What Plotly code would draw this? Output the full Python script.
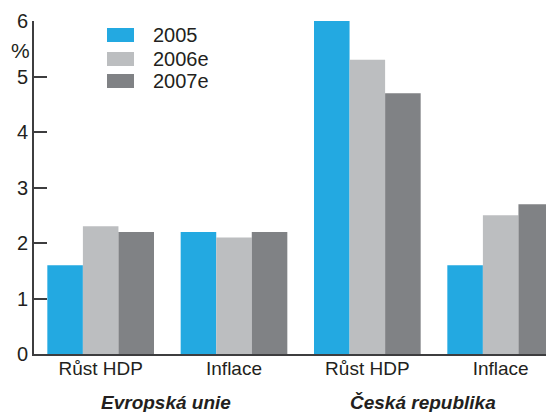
import plotly.graph_objects as go

categories = ["Růst HDP", "Inflace", "Růst HDP", "Inflace"]
groups = ["Evropská unie", "Česká republika"]
series_names = ["2005", "2006e", "2007e"]
v2005 = [1.6, 2.2, 6.0, 1.6]
v2006e = [2.3, 2.1, 5.3, 2.5]
v2007e = [2.2, 2.2, 4.7, 2.7]
y_ticks = [0, 1, 2, 3, 4, 5, 6]

colors = ["#23a9e1", "#bcbec0", "#808285"]
values = [v2005, v2006e, v2007e]
xpos = list(range(len(categories)))
txt = "#231f20"
axis_col = "#3d3d3f"
FONT = "Liberation Sans, Arial, sans-serif"

fig = go.Figure()
for name, vals, col in zip(series_names, values, colors):
    fig.add_trace(go.Bar(x=xpos, y=vals, name=name, marker=dict(color=col, line=dict(width=0)),
                         showlegend=False))

# page body has an 8px default margin; figure placed at (8, 8)
OFF = 8
W, H = 554 - OFF, 412 - OFF
plot_left, plot_right, plot_top, plot_bottom = 34, 554, 21, 354  # screen px
ml, mr, mt = plot_left - OFF, 554 - plot_right, plot_top - OFF
mb = H - (plot_bottom - OFF)
pw, ph = plot_right - plot_left, plot_bottom - plot_top

def px(xp):
    return (xp - plot_left) / pw

def py(yp):
    return (plot_bottom - yp) / ph

shapes = []
annotations = []
row_centers = [35, 59, 81]
for name, col, yc in zip(series_names, colors, row_centers):
    shapes.append(dict(type="rect", xref="paper", yref="paper", x0=px(107), x1=px(134),
                       y0=py(yc + 7), y1=py(yc - 7), fillcolor=col, line=dict(width=0)))
    annotations.append(dict(xref="paper", yref="paper", x=px(151), y=py(yc), text=name,
                            xanchor="left", yanchor="middle", showarrow=False,
                            font=dict(family=FONT, size=20, color=txt)))

annotations.append(dict(xref="paper", yref="paper", x=px(20.5), y=py(50), text="%",
                        xanchor="center", yanchor="middle", showarrow=False,
                        font=dict(family=FONT, size=21, color=txt)))

group_x = [166, 423]
for g, gx in zip(groups, group_x):
    annotations.append(dict(xref="paper", yref="paper", x=px(gx), y=py(402), text="<b><i>%s</i></b>" % g,
                            xanchor="center", yanchor="middle", showarrow=False,
                            font=dict(family=FONT, size=19, color=txt)))

fig.update_layout(
    width=W, height=H,
    margin=dict(l=ml, r=mr, t=mt, b=mb, autoexpand=False),
    paper_bgcolor="white", plot_bgcolor="white",
    barmode="group", bargap=0.2, bargroupgap=0,
    shapes=shapes, annotations=annotations,
    font=dict(family=FONT, color=txt),
)
fig.update_xaxes(range=[-0.5, 3.4], tickvals=xpos, ticktext=categories, showgrid=False,
                 zeroline=False, showline=True, linecolor=axis_col, linewidth=2,
                 ticks="", ticklabelstandoff=-4, automargin=False,
                 tickfont=dict(family=FONT, size=19, color=txt))
fig.update_yaxes(range=[0, 6], tickvals=y_ticks, showgrid=False, zeroline=False,
                 showline=True, linecolor=axis_col, linewidth=2, ticks="inside",
                 ticklen=13, tickwidth=1.5, tickcolor=axis_col, automargin=False,
                 tickfont=dict(family=FONT, size=20, color=txt))

fig.write_html("out.html")
